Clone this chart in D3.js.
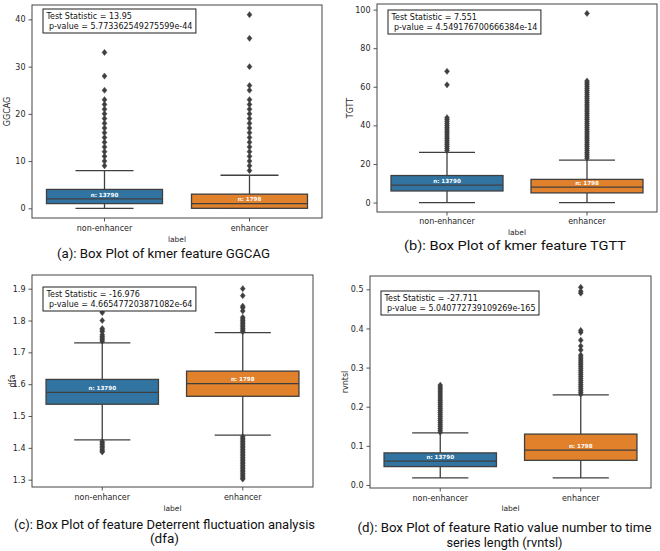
<!DOCTYPE html>
<html>
<head>
<meta charset="utf-8">
<script src="https://cdn.jsdelivr.net/npm/d3@7"></script>
<style>
  html, body { margin: 0; padding: 0; background: #ffffff; }
  svg { display: block; }
</style>
</head>
<body>
<svg id="chart" width="660" height="551"></svg>
<script>
// ---------------- DATA ----------------
const categories = ["non-enhancer", "enhancer"];
const sampleCounts = [13790, 1798];
const featureNames = ["GGCAG", "TGTT", "dfa", "rvntsl"];
const testStatistics = ["13.95", "7.551", "-16.976", "-27.711"];
const pValues = ["5.773362549275599e-44", "4.549176700666384e-14", "4.665477203871082e-64", "5.040772739109269e-165"];
const captions = [
  ["(a): Box Plot of kmer feature GGCAG"],
  ["(b): Box Plot of kmer feature TGTT"],
  ["(c): Box Plot of feature Deterrent fluctuation analysis", "(dfa)"],
  ["(d): Box Plot of feature Ratio value number to time", "series length (rvntsl)"]
];

// box stats per category: [whiskerLow, q1, median, q3, whiskerHigh]
const ggcagBoxes = [[0, 1, 2, 4, 8], [0, 0, 1, 3, 7]];
const tgttBoxes = [[0, 6, 9, 14, 26], [0, 5, 8, 12, 22]];
const dfaBoxes = [[1.425, 1.537, 1.574, 1.615, 1.730], [1.440, 1.562, 1.602, 1.641, 1.762]];
const rvntslBoxes = [[0.018, 0.047, 0.061, 0.082, 0.133], [0.018, 0.063, 0.089, 0.130, 0.230]];

// outliers per category
const ggcagOutliers = [
  [9, 10, 11, 12, 13, 14, 15, 16, 17, 18, 19, 20, 21, 22, 23, 25, 28, 33],
  [8, 9, 10, 11, 12, 13, 14, 15, 16, 17, 18, 19, 20, 21, 22, 23, 25, 26, 30, 36, 41]
];
const tgttOutliers = [
  [27, 28, 29, 30, 31, 32, 33, 34, 35, 36, 37, 38, 39, 40, 41, 42, 43, 44, 61, 68],
  [23, 24, 25, 26, 27, 28, 29, 30, 31, 32, 33, 34, 35, 36, 37, 38, 39, 40, 41, 42, 43, 44, 45, 46, 47, 48,
   49, 50, 51, 52, 53, 54, 55, 56, 57, 58, 59, 60, 61, 62, 63, 98]
];
const dfaOutliers = [
  [1.735, 1.74, 1.745, 1.75, 1.755, 1.765, 1.77, 1.775, 1.80, 1.825, 1.83,
   1.42, 1.415, 1.41, 1.405, 1.40, 1.395, 1.39, 1.387],
  [1.765, 1.77, 1.775, 1.78, 1.785, 1.79, 1.795, 1.80, 1.805, 1.81, 1.83, 1.84, 1.845, 1.878, 1.90,
   1.435, 1.43, 1.425, 1.42, 1.415, 1.41, 1.405, 1.40, 1.395, 1.39, 1.385, 1.38, 1.375, 1.37, 1.365,
   1.36, 1.355, 1.35, 1.345, 1.34, 1.335, 1.33, 1.325, 1.32, 1.315, 1.31, 1.305, 1.302]
];
const rvntslOutliers = [
  [0.135, 0.14, 0.145, 0.15, 0.155, 0.16, 0.165, 0.17, 0.175, 0.18, 0.185, 0.19, 0.195, 0.20, 0.205,
   0.21, 0.215, 0.22, 0.225, 0.23, 0.235, 0.24, 0.245, 0.25, 0.255],
  [0.232, 0.237, 0.242, 0.247, 0.252, 0.257, 0.262, 0.267, 0.272, 0.277, 0.282, 0.287, 0.292, 0.297,
   0.302, 0.307, 0.312, 0.317, 0.322, 0.327, 0.332, 0.345, 0.355, 0.37, 0.39, 0.395, 0.49, 0.495, 0.505]
];

const yDomains = [[-2.05, 43.05], [-4.9, 102.9], [1.277, 1.943], [-0.0077, 0.534]];
const yTicks = [
  [0, 10, 20, 30, 40],
  [0, 20, 40, 60, 80, 100],
  [1.3, 1.4, 1.5, 1.6, 1.7, 1.8, 1.9],
  [0.0, 0.1, 0.2, 0.3, 0.4, 0.5]
];
const yTickFormats = ["d", "d", ".1f", ".1f"];

const allBoxes = [ggcagBoxes, tgttBoxes, dfaBoxes, rvntslBoxes];
const allOutliers = [ggcagOutliers, tgttOutliers, dfaOutliers, rvntslOutliers];

// ---------------- LAYOUT ----------------
const layout = [
  { left: 32, right: 322, top: 5, bottom: 218, ylabX: 7, statX: 43, statY: 9,
    tickDy: 10, labDy: 21, capX: 163.5, capY: [253], capW: [213] },
  { left: 377, right: 657, top: 4, bottom: 212, ylabX: 350, statX: 388, statY: 10,
    tickDy: 9, labDy: 20, capX: 515, capY: [245.5], capW: [222] },
  { left: 32, right: 313, top: 275, bottom: 487, ylabX: 12, statX: 43, statY: 287,
    tickDy: 10, labDy: 21, capX: 164.5, capY: [524, 538.5], capW: [301, 29] },
  { left: 370, right: 651, top: 276, bottom: 488, ylabX: 345, statX: 381, statY: 291,
    tickDy: 10, labDy: 20.5, capX: 504.5, capY: [527, 542], capW: [294, 116] }
];

const colors = ["#3274a1", "#e1812c"];
const lineColor = "#3f3f3f";
const axisColor = "#444444";
const textColor = "#262626";
const chartFont = "'DejaVu Sans', sans-serif";
const captionFont = "Roboto, 'Liberation Sans', sans-serif";
const captionSize = 13;

const svg = d3.select("#chart");

layout.forEach((L, p) => {
  const g = svg.append("g");
  const x = d3.scaleBand().domain(categories).range([L.left, L.right]).padding(0);
  const y = d3.scaleLinear().domain(yDomains[p]).range([L.bottom, L.top]);
  const bw = x.bandwidth() * 0.8;

  // axes
  const yAxis = d3.axisLeft(y).tickValues(yTicks[p]).tickFormat(d3.format(yTickFormats[p])).tickSize(3.5).tickPadding(3);
  const ya = g.append("g").attr("transform", `translate(${L.left},0)`).call(yAxis);
  const xAxis = d3.axisBottom(x).tickSize(3.5).tickPadding(2);
  const xa = g.append("g").attr("transform", `translate(0,${L.bottom})`).call(xAxis);
  [ya, xa].forEach(a => {
    a.select(".domain").remove();
    a.selectAll(".tick line").attr("stroke", axisColor).attr("stroke-width", 0.9);
    a.selectAll(".tick text").attr("fill", textColor).style("font-family", chartFont).style("font-size", "8px");
  });
  xa.selectAll(".tick text").attr("dy", null).attr("y", L.tickDy + 2.5).attr("dominant-baseline", "auto");

  // boxes
  categories.forEach((c, i) => {
    const [lo, q1, med, q3, hi] = allBoxes[p][i];
    const cx = x(c) + x.bandwidth() / 2;
    const bg = g.append("g");
    bg.append("line").attr("x1", cx).attr("x2", cx).attr("y1", y(lo)).attr("y2", y(q1))
      .attr("stroke", lineColor).attr("stroke-width", 1.3);
    bg.append("line").attr("x1", cx).attr("x2", cx).attr("y1", y(q3)).attr("y2", y(hi))
      .attr("stroke", lineColor).attr("stroke-width", 1.3);
    [lo, hi].forEach(v => {
      bg.append("line").attr("x1", cx - bw / 4).attr("x2", cx + bw / 4).attr("y1", y(v)).attr("y2", y(v))
        .attr("stroke", lineColor).attr("stroke-width", 1.3);
    });
    bg.append("rect").attr("x", cx - bw / 2).attr("width", bw)
      .attr("y", y(q3)).attr("height", Math.max(0, y(q1) - y(q3)))
      .attr("fill", colors[i]).attr("stroke", lineColor).attr("stroke-width", 1.3);
    bg.append("line").attr("x1", cx - bw / 2).attr("x2", cx + bw / 2).attr("y1", y(med)).attr("y2", y(med))
      .attr("stroke", lineColor).attr("stroke-width", 1.3);
    // outliers (diamonds)
    bg.selectAll("path.fl").data(allOutliers[p][i]).enter().append("path")
      .attr("class", "fl")
      .attr("d", v => {
        const yy = y(v);
        return `M${cx},${yy - 3.1}L${cx + 2.5},${yy}L${cx},${yy + 3.1}L${cx - 2.5},${yy}Z`;
      })
      .attr("fill", lineColor).attr("stroke", lineColor).attr("stroke-width", 0.4);
    // n label
    bg.append("text").attr("x", cx).attr("y", y(med) - 2.2).attr("text-anchor", "middle")
      .attr("fill", "#ffffff").style("font-family", chartFont).style("font-size", "5.6px")
      .style("font-weight", "bold").text("n: " + sampleCounts[i]);
  });

  // frame
  g.append("rect").attr("x", L.left).attr("y", L.top).attr("width", L.right - L.left).attr("height", L.bottom - L.top)
    .attr("fill", "none").attr("stroke", axisColor).attr("stroke-width", 1);

  // axis labels
  g.append("text").attr("transform", `translate(${L.ylabX + 3},${(L.top + L.bottom) / 2}) rotate(-90)`)
    .attr("text-anchor", "middle").attr("fill", textColor)
    .style("font-family", chartFont).style("font-size", "8px").text(featureNames[p]);
  g.append("text").attr("x", (L.left + L.right) / 2).attr("y", L.bottom + L.labDy + 2.5)
    .attr("text-anchor", "middle").attr("fill", textColor)
    .style("font-family", chartFont).style("font-size", "7.5px").text("label");

  // stat box
  const sg = g.append("g");
  const t1 = sg.append("text").attr("x", L.statX + 3.5).attr("y", L.statY + 10)
    .attr("fill", "#111").style("font-family", chartFont).style("font-size", "8px")
    .style("white-space", "pre").attr("xml:space", "preserve")
    .text("Test Statistic = " + testStatistics[p]);
  const t2 = sg.append("text").attr("x", L.statX + 3.5).attr("y", L.statY + 20)
    .attr("fill", "#111").style("font-family", chartFont).style("font-size", "8px")
    .style("white-space", "pre").attr("xml:space", "preserve")
    .text(" p-value = " + pValues[p]);
  const w = Math.max(t1.node().getComputedTextLength(), t2.node().getComputedTextLength()) + 7;
  sg.insert("rect", "text").attr("x", L.statX).attr("y", L.statY).attr("width", w).attr("height", 24)
    .attr("fill", "#ffffff").attr("stroke", "#333").attr("stroke-width", 1.1);

  // caption
  captions[p].forEach((line, k) => {
    const t = svg.append("text").attr("x", L.capX).attr("y", L.capY[k] + 4.5)
      .attr("text-anchor", "middle").attr("fill", "#111")
      .style("font-family", captionFont).style("font-size", captionSize + "px")
      .text(line);
    const natural = t.node().getComputedTextLength();
    const fs = Math.min(captionSize, captionSize * L.capW[k] * 1.02 / natural);
    t.style("font-size", fs + "px");
    t.attr("textLength", L.capW[k]).attr("lengthAdjust", "spacingAndGlyphs");
  });
});
</script>
</body>
</html>
